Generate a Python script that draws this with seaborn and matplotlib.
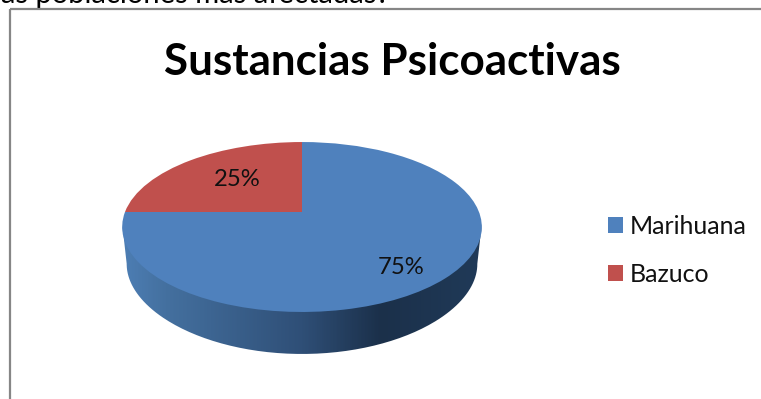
import numpy as np
import matplotlib
matplotlib.use("Agg")
import matplotlib.pyplot as plt
from matplotlib.path import Path
from matplotlib.patches import PathPatch, Rectangle
from matplotlib.colors import LinearSegmentedColormap
from matplotlib.transforms import Transform
import seaborn as sns

categories = ["Marihuana", "Bazuco"]
values = [75, 25]
labels_pct = ["75%", "25%"]
colors = ["#4f81bd", "#c0504d"]
title = "Sustancias Psicoactivas"
cut_text = "las poblaciones más afectadas?"

W, H = 761, 399
sns.set_theme(style="white")
plt.rcParams["font.family"] = ["Lato", "DejaVu Sans"]

fig = plt.figure(figsize=(W / 100, H / 100), dpi=100)
ax = fig.add_axes([0, 0, 1, 1])

# perspective projection of the unit disc to pixel positions
CX, CY, K, A, C, DEPTH = 302, 212, 177, -44.9, 0.1765, 42


def project(u, v):
    d = C * v + 1
    return CX + K * u / d, (A * v + CY) / d


class Tilt(Transform):
    input_dims = output_dims = 2
    is_affine = False

    def transform_non_affine(self, values):
        values = np.asarray(values, dtype=float)
        return np.column_stack(project(values[:, 0], values[:, 1]))


# top face: the pie's wedges are seen through the tilt transform
wedges, _ = ax.pie(
    values,
    colors=colors,
    startangle=90,
    counterclock=False,
    radius=1,
    center=(0, 0),
    frame=False,
    normalize=True,
)
ax.set_aspect("auto")
ax.set_xlim(0, W)
ax.set_ylim(H, 0)
ax.axis("off")
for w in wedges:
    w.set_transform(Tilt() + ax.transData)
    w.set_zorder(2)
    w.set_edgecolor("none")
    w.set_linewidth(0)

# side wall: the lower rim is a little narrower and shallower at the sides
t = np.linspace(np.pi, 2 * np.pi, 200)
x_f, y_f = project(np.cos(t), np.sin(t))
i0, i1 = np.argmin(x_f), np.argmax(x_f)
xr, yr = x_f[i0:i1 + 1], y_f[i0:i1 + 1]
side = np.abs((xr - CX) / (xr.max() - CX))
yb = yr + DEPTH - 5 * side**2
xb = CX + (xr - CX) * 0.975
wall = np.vstack([np.c_[xr, yr - 3], np.c_[xb[::-1], yb[::-1]], [[xr[0], yr[0] - 3]]])
wall_cmap = LinearSegmentedColormap.from_list(
    "wall",
    [(0, "#4d7eb4"), (0.12, "#44709f"), (0.5, "#2f4f77"), (0.72, "#1b304a"), (1, "#203a58")],
)
img = ax.imshow(
    np.linspace(0, 1, 360)[None, :],
    cmap=wall_cmap,
    extent=[xr[0], xr[-1], yb.max(), yr.min() - 3],
    aspect="auto",
    zorder=1,
)
ax.set_xlim(0, W)
ax.set_ylim(H, 0)
clip = PathPatch(Path(wall), transform=ax.transData, fc="none", ec="none")
ax.add_patch(clip)
img.set_clip_path(clip)

# percentage labels
ax.text(401, 268, labels_pct[0], ha="center", va="center", fontsize=17.2, color="#111111", zorder=3)
ax.text(237, 180, labels_pct[1], ha="center", va="center", fontsize=17.2, color="#111111", zorder=3)

# chart frame and title
ax.add_patch(Rectangle((10, 9), 760, 400, fc="none", ec="#868686", lw=1.6, zorder=4, clip_on=True))
ax.text(392, 62, title, ha="center", va="center", fontsize=31.7, fontweight="bold", color="black", zorder=3)
ax.text(-6, 3, cut_text, ha="left", va="baseline", fontsize=21, color="black", zorder=3)

# legend
leg = ax.legend(
    wedges,
    categories,
    loc="center left",
    bbox_to_anchor=(608 / W, 1 - 250 / H),
    bbox_transform=fig.transFigure,
    frameon=False,
    fontsize=18,
    handlelength=0.6,
    handleheight=0.6,
    handletextpad=0.28,
    labelspacing=1.0,
    borderpad=0,
    borderaxespad=0,
    labelcolor="#111111",
)

fig.savefig("out.png", dpi=100, facecolor="white")
